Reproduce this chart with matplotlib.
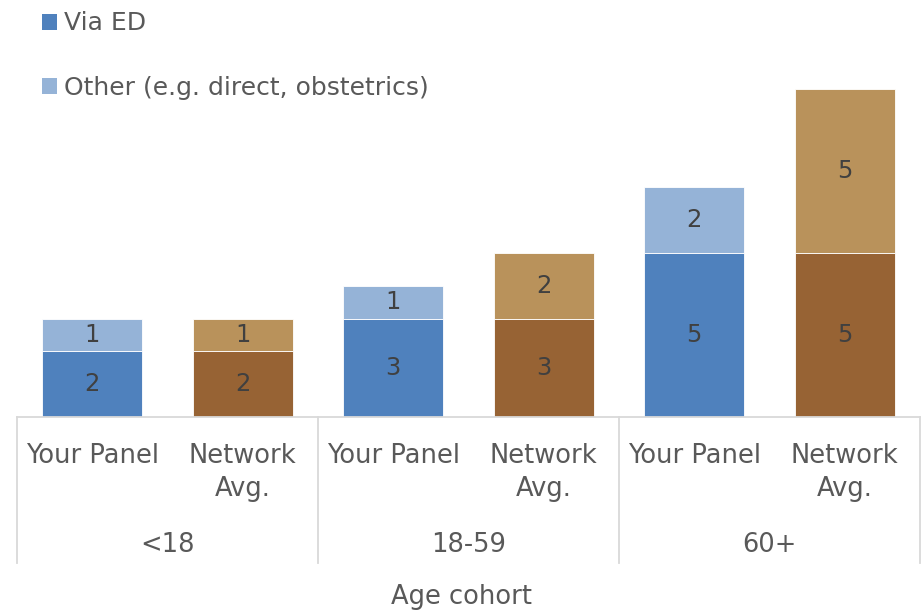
import matplotlib.pyplot as plt
from matplotlib.patches import Patch

# referrals by age cohort, your panel vs network average
cohorts = ['<18', '18-59', '60+']
bar_labels = ['Your Panel', 'Network\nAvg.'] * 3
via_ed = [2, 2, 3, 3, 5, 5]
other = [1, 1, 1, 2, 2, 5]

dark = ['#4F81BD', '#976334'] * 3
light = ['#95B3D7', '#B9925B'] * 3
txt = '#595959'
grid = '#D9D9D9'

plt.rcParams['font.family'] = ['DejaVu Sans']

fig = plt.figure(figsize=(9.23, 6.10), dpi=100)
ax = fig.add_axes([17 / 923, 193 / 610, 903 / 923, 417 / 610])

x = list(range(len(via_ed)))
b1 = ax.bar(x, via_ed, width=0.667, color=dark, edgecolor='white', linewidth=0.6)
b2 = ax.bar(x, other, width=0.667, bottom=via_ed, color=light, edgecolor='white', linewidth=0.6)
ax.bar_label(b1, labels=[str(v) for v in via_ed], label_type='center', fontsize=17.5, color='#404040')
ax.bar_label(b2, labels=[str(v) for v in other], label_type='center', fontsize=17.5, color='#404040')

ax.set_xlim(-0.5, 5.5)
ax.set_ylim(0, 417 / 32.8)
for s in ax.spines.values():
    s.set_visible(False)
ax.set_yticks([])
ax.set_xticks(x)
ax.set_xticklabels(bar_labels, fontsize=18.5, color=txt, linespacing=1.35)
ax.tick_params(axis='x', length=0, pad=19)

# category table lines under the axis
ax.axhline(0, color=grid, lw=1.3, clip_on=False)
for xv in [-0.5, 1.5, 3.5, 5.5]:
    ax.plot([xv, xv], [0, -146 / 32.8], color=grid, lw=1.3, clip_on=False)
for i, c in enumerate(cohorts):
    ax.text(2 * i + 0.5, -128 / 32.8, c, ha='center', va='center', fontsize=18.5, color=txt)

fig.text(462 / 923, 1 - 597 / 610, 'Age cohort', ha='center', va='center', fontsize=18.5, color=txt)

handles = [Patch(facecolor='#4F81BD', label='Via ED'),
           Patch(facecolor='#95B3D7', label='Other (e.g. direct, obstetrics)')]
fig.legend(handles=handles, loc='upper left', bbox_to_anchor=(41.5 / 923, 1 - 11.5 / 610),
           frameon=False, fontsize=18, labelcolor=txt, handlelength=0.62, handleheight=0.62,
           handletextpad=0.3, labelspacing=1.6, borderpad=0, borderaxespad=0)

fig.savefig('out.png', dpi=100)
